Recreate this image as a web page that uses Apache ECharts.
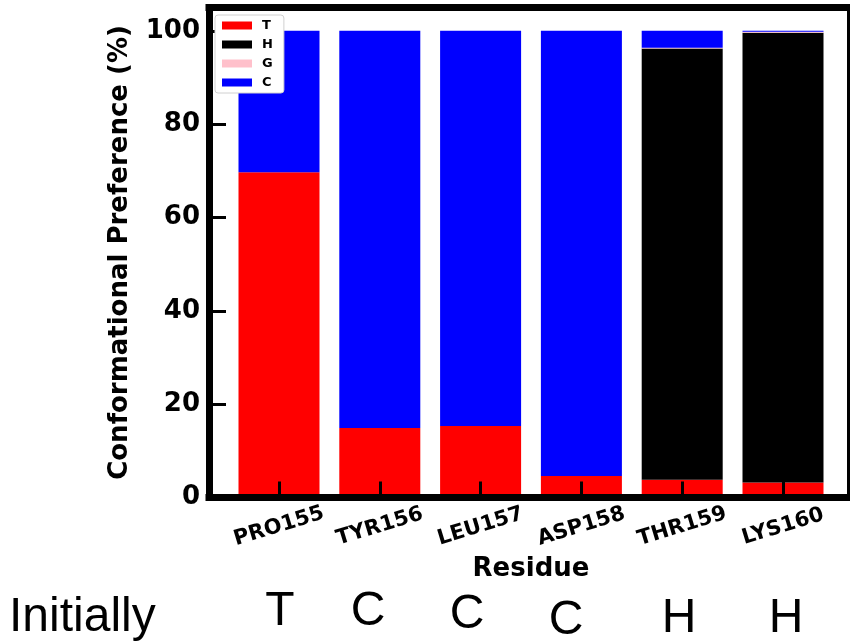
<!DOCTYPE html>
<html>
<head>
<meta charset="utf-8">
<script src="https://cdn.jsdelivr.net/npm/echarts@6/dist/echarts.min.js"></script>
<style>
html,body{margin:0;padding:0;background:#fff;}
#chart{width:850px;height:641px;}
</style>
</head>
<body>
<div id="chart"></div>
<script>
// ---- data ----
const categories = ['PRO155', 'TYR156', 'LEU157', 'ASP158', 'THR159', 'LYS160'];
const turnT      = [69.7, 14.9, 15.3, 4.6, 3.8, 3.2];
const helixH     = [0, 0, 0, 0, 92.4, 96.4];
const helix310G  = [0, 0, 0, 0, 0.2, 0.2];
const coilC      = [30.3, 85.1, 84.7, 95.4, 3.6, 0.2];
const seriesNames = ['T', 'H', 'G', 'C'];
const initialStates = ['T', 'C', 'C', 'C', 'H', 'H'];
const yAxisTitle = 'Conformational Preference (%)';
const xAxisTitle = 'Residue';
const initialLabel = 'Initially';

// ---- chart ----
const chart = echarts.init(document.getElementById('chart'), null, {renderer: 'canvas'});
const FONT = 'DejaVu Sans';
const frameLine = {show: true, onZero: false, lineStyle: {color: '#000', width: 7, cap: 'square'}};
const rightLine = {show: true, onZero: false, lineStyle: {color: '#000', width: 3}};
const colors = ['#ff0000', '#000000', '#ffc0cb', '#0000ff'];
const values = [turnT, helixH, helix310G, coilC];

const initX = [280, 368, 467, 566, 679, 786];
const initY = [612, 612, 615, 621, 619, 619];

const graphics = [{
  type: 'text', left: 9, top: 594, z: 100,
  style: {text: initialLabel, font: '48px "Liberation Sans", Arial, sans-serif', fill: '#000'}
}];
initialStates.forEach((s, i) => {
  graphics.push({
    type: 'text', x: initX[i], y: initY[i], z: 100,
    style: {text: s, font: '48px "Liberation Sans", Arial, sans-serif', fill: '#000',
            align: 'center', verticalAlign: 'middle'}
  });
});

const option = {
  animation: false,
  backgroundColor: '#fff',
  grid: [
    {left: 209, right: 1.5, top: 7.5, bottom: 143.5, containLabel: false},
    {left: 228.6, right: 16.6, top: 7.5, bottom: 143.5, containLabel: false}
  ],
  legend: {
    data: seriesNames,
    orient: 'vertical',
    left: 215, top: 15,
    itemWidth: 30, itemHeight: 8, itemGap: 6,
    icon: 'rect',
    padding: [4, 11, 4, 7],
    borderColor: '#d0d0d0', borderWidth: 1, borderRadius: 3,
    backgroundColor: '#fff',
    textStyle: {fontFamily: FONT, fontWeight: 'bold', fontSize: 13, color: '#000', padding: [0, 0, 0, 5]},
    z: 20
  },
  xAxis: [
    {gridIndex: 0, type: 'value', min: 0, max: 1, position: 'bottom', z: 10,
     axisLine: frameLine, axisTick: {show: false}, axisLabel: {show: false}, splitLine: {show: false}},
    {gridIndex: 1, type: 'category', data: categories, position: 'bottom', z: 11,
     axisLine: {show: false},
     axisTick: {show: true, inside: true, alignWithLabel: true, length: 16, lineStyle: {color: '#000', width: 3}},
     axisLabel: {rotate: 17, align: 'center', verticalAlign: 'middle', margin: 29,
                 fontFamily: FONT, fontWeight: 'bold', fontSize: 21, color: '#000'},
     name: xAxisTitle, nameLocation: 'middle', nameGap: 59,
     nameTextStyle: {fontFamily: FONT, fontWeight: 'bold', fontSize: 26, color: '#000'},
     splitLine: {show: false}},
    {gridIndex: 0, type: 'value', min: 0, max: 1, position: 'top', z: 10,
     axisLine: frameLine, axisTick: {show: false}, axisLabel: {show: false}, splitLine: {show: false}}
  ],
  yAxis: [
    {gridIndex: 0, type: 'value', min: 0, max: 105, interval: 20, position: 'left', z: 10,
     axisLine: frameLine,
     axisTick: {show: true, inside: true, length: 17, lineStyle: {color: '#000', width: 3}},
     axisLabel: {showMaxLabel: false, margin: 9, fontFamily: FONT, fontWeight: 'bold', fontSize: 26, color: '#000'},
     name: yAxisTitle, nameLocation: 'middle', nameGap: 76,
     nameTextStyle: {fontFamily: FONT, fontWeight: 'bold', fontSize: 26, color: '#000'},
     splitLine: {show: false}},
    {gridIndex: 1, type: 'value', min: 0, max: 105, show: false},
    {gridIndex: 0, type: 'value', min: 0, max: 1, position: 'right', z: 10,
     axisLine: rightLine, axisTick: {show: false}, axisLabel: {show: false}, splitLine: {show: false}}
  ],
  series: seriesNames.map((n, k) => ({
    name: n, type: 'bar', stack: 'total',
    xAxisIndex: 1, yAxisIndex: 1,
    barWidth: 81,
    itemStyle: {color: colors[k]},
    data: values[k]
  })),
  graphic: graphics
};
chart.setOption(option);
</script>
</body>
</html>
